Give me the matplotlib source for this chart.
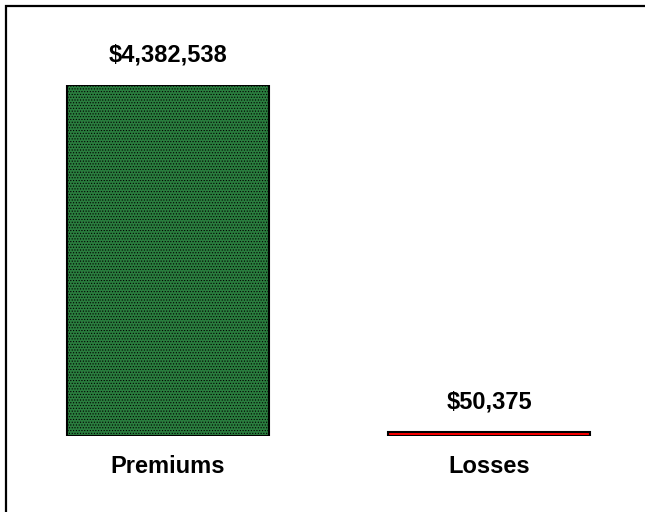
import matplotlib
matplotlib.use("Agg")
import matplotlib.pyplot as plt
from matplotlib.patches import Rectangle

categories = ["Premiums", "Losses"]
values = [4382538, 50375]
value_labels = ["$4,382,538", "$50,375"]
colors = ["#2a7d3e", "#ff0000"]
hatches = ["......", None]

plt.rcParams['font.family'] = ['Liberation Sans', 'DejaVu Sans']
plt.rcParams['hatch.color'] = '#175a2b'
plt.rcParams['hatch.linewidth'] = 0.5

W, H = 645, 512
fig = plt.figure(figsize=(W / 100, H / 100), dpi=100)
ax = fig.add_axes([0, 76 / H, 1, 351 / H])
ax.set_xlim((0 - 168) / 321, (W - 168) / 321)
ax.set_ylim(0, max(values))
ax.axis('off')

x = list(range(len(categories)))
bars = ax.bar(x, values, width=202 / 321, color=colors, edgecolor='black', linewidth=1.5)
for b, h in zip(bars, hatches):
    if h:
        b.set_hatch(h)

for xi, v, lab in zip(x, values, value_labels):
    ax.annotate(lab, (xi, v), xytext=(0, 13), textcoords='offset points',
                ha='center', va='bottom', fontsize=17, fontweight='bold', annotation_clip=False)

for xi, c in zip(x, categories):
    ax.annotate(c, (xi, 0), xytext=(0, -14), textcoords='offset points',
                ha='center', va='top', fontsize=17, fontweight='bold', annotation_clip=False)

border = Rectangle((5.5 / W, -0.1), 1.2, 1.1 - 5.5 / H, transform=fig.transFigure,
                   fill=False, edgecolor='black', linewidth=1.6, clip_on=False)
fig.patches.append(border)

fig.savefig("out.png", dpi=100)
